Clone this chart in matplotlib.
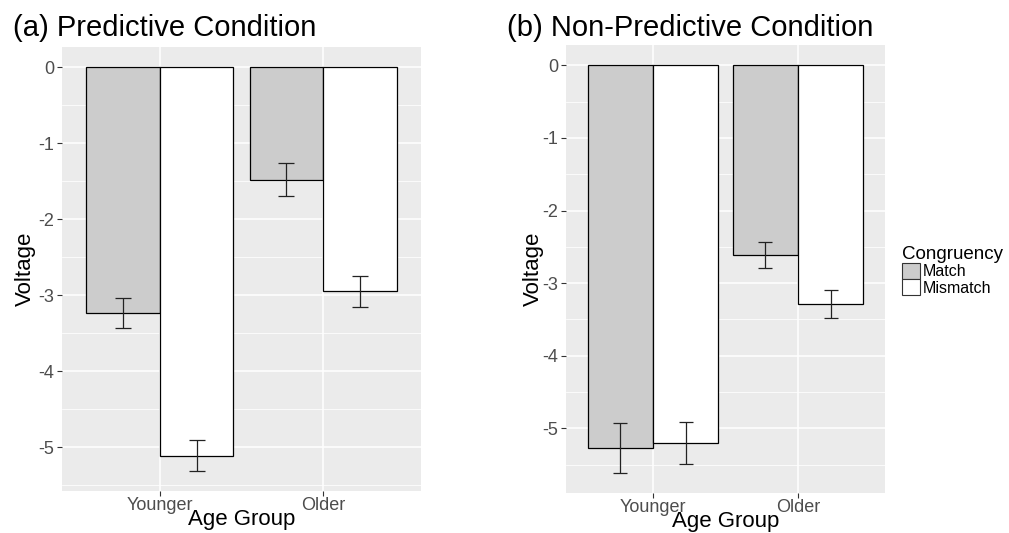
import numpy as np
import matplotlib
matplotlib.use('Agg')
import matplotlib.pyplot as plt
from matplotlib.patches import Patch

plt.rcParams['font.family'] = ['Liberation Sans', 'DejaVu Sans']

groups = ['Younger', 'Older']
congruency = ['Match', 'Mismatch']

# predictive condition: mean voltage and standard error
pred_match = [-3.23, -1.48]
pred_match_se = [0.20, 0.22]
pred_mismatch = [-5.11, -2.95]
pred_mismatch_se = [0.20, 0.205]

# non-predictive condition
nonpred_match = [-5.27, -2.61]
nonpred_match_se = [0.34, 0.18]
nonpred_mismatch = [-5.20, -3.29]
nonpred_mismatch_se = [0.29, 0.19]

FILL = {'Match': '#CCCCCC', 'Mismatch': '#FFFFFF'}
W, H = 1009, 533


def px_axes(fig, left, top, right, bottom):
    return fig.add_axes([left / W, 1 - bottom / H, (right - left) / W, (bottom - top) / H])


def panel(ax, match, match_se, mismatch, mismatch_se, capsize, xlab_y, ylab_x):
    x = np.arange(1, len(groups) + 1)
    bw = 0.45
    ax.set_facecolor('#EBEBEB')
    for off, vals, se, name in [(-bw / 2, match, match_se, 'Match'),
                                (bw / 2, mismatch, mismatch_se, 'Mismatch')]:
        ax.bar(x + off, vals, width=bw, color=FILL[name], edgecolor='black',
               linewidth=0.9, zorder=3)
        ax.errorbar(x + off, vals, yerr=se, fmt='none', ecolor='#222222',
                    elinewidth=0.9, capsize=capsize, capthick=0.9, zorder=4)
    lo = min(np.array(match) - np.array(match_se))
    lo = min(lo, min(np.array(mismatch) - np.array(mismatch_se)))
    pad = 0.05 * (0 - lo)
    ax.set_ylim(lo - pad, pad)
    ax.set_xlim(0.4, 2.6)
    ax.set_xticks(x)
    ax.set_xticklabels(groups)
    ax.set_yticks(np.arange(-5, 1))
    ax.set_yticklabels(['%d' % v for v in np.arange(-5, 1)])
    ax.set_yticks(np.arange(-5.5, 0.5, 1.0), minor=True)
    ax.grid(True, which='major', color='white', linewidth=1.1, zorder=0)
    ax.grid(True, which='minor', axis='y', color='white', linewidth=0.55, zorder=0)
    ax.set_axisbelow(True)
    for s in ax.spines.values():
        s.set_visible(False)
    ax.tick_params(axis='both', which='major', length=3.5, width=0.8, color='#333333',
                   labelcolor='#4D4D4D', labelsize=13, pad=2)
    ax.tick_params(axis='x', which='major', pad=0.5)
    ax.tick_params(axis='both', which='minor', length=0)
    ax.set_xlabel('Age Group', fontsize=16, va='center')
    ax.set_ylabel('Voltage', fontsize=16, va='center')
    ax.xaxis.set_label_coords(0.5, xlab_y)
    ax.yaxis.set_label_coords(ylab_x, 0.5)


fig = plt.figure(figsize=(W / 100, H / 100), dpi=100)

ax1 = px_axes(fig, 62, 47, 421, 491)
panel(ax1, pred_match, pred_match_se, pred_mismatch, pred_mismatch_se, 5.8,
      (491 - 519) / 444, (25 - 62) / 359)

ax2 = px_axes(fig, 566, 45, 885, 493)
panel(ax2, nonpred_match, nonpred_match_se, nonpred_mismatch, nonpred_mismatch_se, 5.2,
      (493 - 521) / 448, (533 - 566) / 319)

fig.text(13 / W, 1 - 28 / H, '(a) Predictive Condition', fontsize=21, va='center', ha='left')
fig.text(507 / W, 1 - 28 / H, '(b) Non-Predictive Condition', fontsize=21, va='center', ha='left')

handles = [Patch(facecolor=FILL[c], edgecolor='#333333', linewidth=0.8) for c in congruency]
leg = fig.legend(handles, congruency, loc='upper left', bbox_to_anchor=(902 / W, 1 - 246 / H),
                 title='Congruency', title_fontsize=13.5, fontsize=11.5, frameon=False,
                 handlelength=1.15, handleheight=1.15, handletextpad=0.15,
                 labelspacing=0.0, borderpad=0, borderaxespad=0, alignment='left')

fig.savefig('out.png', dpi=100)
